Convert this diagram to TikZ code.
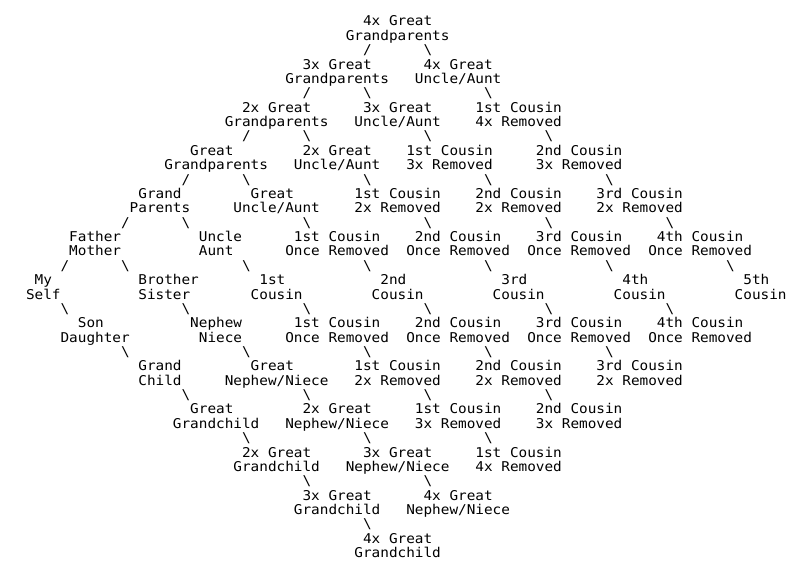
\documentclass[tikz,border=0pt]{standalone}
\usepackage{fontspec}
\newfontfamily\asciifont[FakeStretch=1.0635]{DejaVu Sans Mono}
\newcommand{\mybs}{\textbackslash}
\newcommand{\Lbl}[3]{\node[lbl] (r#2c#1) at ({26+8.643*#1},{26+14.37*#2}) {#3};}
\tikzset{lbl/.style={anchor=base west, inner sep=0pt, outer sep=0pt, text=black,
  font=\asciifont\fontsize{13.5}{14}\selectfont}}
\begin{document}
\begin{tikzpicture}[x=1pt,y=-1pt]
\useasboundingbox[fill=white] (0,0) rectangle (803,578);
% row 0-2
\Lbl{39}{0}{4x Great}
\Lbl{37}{1}{Grandparents}
\Lbl{39}{2}{/}\Lbl{46}{2}{\mybs}
% rows 3-5
\Lbl{32}{3}{3x Great}\Lbl{46}{3}{4x Great}
\Lbl{30}{4}{Grandparents}\Lbl{45}{4}{Uncle/Aunt}
\Lbl{32}{5}{/}\Lbl{39}{5}{\mybs}\Lbl{53}{5}{\mybs}
% rows 6-8
\Lbl{25}{6}{2x Great}\Lbl{39}{6}{3x Great}\Lbl{52}{6}{1st Cousin}
\Lbl{23}{7}{Grandparents}\Lbl{38}{7}{Uncle/Aunt}\Lbl{52}{7}{4x Removed}
\Lbl{25}{8}{/}\Lbl{32}{8}{\mybs}\Lbl{46}{8}{\mybs}\Lbl{60}{8}{\mybs}
% rows 9-11
\Lbl{19}{9}{Great}\Lbl{32}{9}{2x Great}\Lbl{44}{9}{1st Cousin}\Lbl{59}{9}{2nd Cousin}
\Lbl{16}{10}{Grandparents}\Lbl{31}{10}{Uncle/Aunt}\Lbl{44}{10}{3x Removed}\Lbl{59}{10}{3x Removed}
\Lbl{18}{11}{/}\Lbl{25}{11}{\mybs}\Lbl{39}{11}{\mybs}\Lbl{53}{11}{\mybs}\Lbl{67}{11}{\mybs}
% rows 12-14
\Lbl{13}{12}{Grand}\Lbl{26}{12}{Great}\Lbl{38}{12}{1st Cousin}\Lbl{52}{12}{2nd Cousin}\Lbl{66}{12}{3rd Cousin}
\Lbl{12}{13}{Parents}\Lbl{24}{13}{Uncle/Aunt}\Lbl{38}{13}{2x Removed}\Lbl{52}{13}{2x Removed}\Lbl{66}{13}{2x Removed}
\Lbl{11}{14}{/}\Lbl{18}{14}{\mybs}\Lbl{32}{14}{\mybs}\Lbl{46}{14}{\mybs}\Lbl{60}{14}{\mybs}\Lbl{74}{14}{\mybs}
% rows 15-17
\Lbl{5}{15}{Father}\Lbl{20}{15}{Uncle}\Lbl{31}{15}{1st Cousin}\Lbl{45}{15}{2nd Cousin}\Lbl{59}{15}{3rd Cousin}\Lbl{73}{15}{4th Cousin}
\Lbl{5}{16}{Mother}\Lbl{20}{16}{Aunt}\Lbl{30}{16}{Once Removed}\Lbl{44}{16}{Once Removed}\Lbl{58}{16}{Once Removed}\Lbl{72}{16}{Once Removed}
\Lbl{4}{17}{/}\Lbl{11}{17}{\mybs}\Lbl{25}{17}{\mybs}\Lbl{39}{17}{\mybs}\Lbl{53}{17}{\mybs}\Lbl{67}{17}{\mybs}\Lbl{81}{17}{\mybs}
% rows 18-20
\Lbl{1}{18}{My}\Lbl{13}{18}{Brother}\Lbl{27}{18}{1st}\Lbl{41}{18}{2nd}\Lbl{55}{18}{3rd}\Lbl{69}{18}{4th}\Lbl{83}{18}{5th}
\Lbl{0}{19}{Self}\Lbl{13}{19}{Sister}\Lbl{26}{19}{Cousin}\Lbl{40}{19}{Cousin}\Lbl{54}{19}{Cousin}\Lbl{68}{19}{Cousin}\Lbl{82}{19}{Cousin}
\Lbl{4}{20}{\mybs}\Lbl{18}{20}{\mybs}\Lbl{32}{20}{\mybs}\Lbl{46}{20}{\mybs}\Lbl{60}{20}{\mybs}\Lbl{74}{20}{\mybs}
% rows 21-23
\Lbl{6}{21}{Son}\Lbl{19}{21}{Nephew}\Lbl{31}{21}{1st Cousin}\Lbl{45}{21}{2nd Cousin}\Lbl{59}{21}{3rd Cousin}\Lbl{73}{21}{4th Cousin}
\Lbl{4}{22}{Daughter}\Lbl{20}{22}{Niece}\Lbl{30}{22}{Once Removed}\Lbl{44}{22}{Once Removed}\Lbl{58}{22}{Once Removed}\Lbl{72}{22}{Once Removed}
\Lbl{11}{23}{\mybs}\Lbl{25}{23}{\mybs}\Lbl{39}{23}{\mybs}\Lbl{53}{23}{\mybs}\Lbl{67}{23}{\mybs}
% rows 24-26
\Lbl{13}{24}{Grand}\Lbl{26}{24}{Great}\Lbl{38}{24}{1st Cousin}\Lbl{52}{24}{2nd Cousin}\Lbl{66}{24}{3rd Cousin}
\Lbl{13}{25}{Child}\Lbl{23}{25}{Nephew/Niece}\Lbl{38}{25}{2x Removed}\Lbl{52}{25}{2x Removed}\Lbl{66}{25}{2x Removed}
\Lbl{18}{26}{\mybs}\Lbl{32}{26}{\mybs}\Lbl{46}{26}{\mybs}\Lbl{60}{26}{\mybs}
% rows 27-29
\Lbl{19}{27}{Great}\Lbl{32}{27}{2x Great}\Lbl{45}{27}{1st Cousin}\Lbl{59}{27}{2nd Cousin}
\Lbl{17}{28}{Grandchild}\Lbl{30}{28}{Nephew/Niece}\Lbl{45}{28}{3x Removed}\Lbl{59}{28}{3x Removed}
\Lbl{25}{29}{\mybs}\Lbl{39}{29}{\mybs}\Lbl{53}{29}{\mybs}
% rows 30-32
\Lbl{25}{30}{2x Great}\Lbl{39}{30}{3x Great}\Lbl{52}{30}{1st Cousin}
\Lbl{24}{31}{Grandchild}\Lbl{37}{31}{Nephew/Niece}\Lbl{52}{31}{4x Removed}
\Lbl{32}{32}{\mybs}\Lbl{46}{32}{\mybs}
% rows 33-37
\Lbl{32}{33}{3x Great}\Lbl{46}{33}{4x Great}
\Lbl{31}{34}{Grandchild}\Lbl{44}{34}{Nephew/Niece}
\Lbl{39}{35}{\mybs}
\Lbl{39}{36}{4x Great}
\Lbl{38}{37}{Grandchild}
\end{tikzpicture}
\end{document}
